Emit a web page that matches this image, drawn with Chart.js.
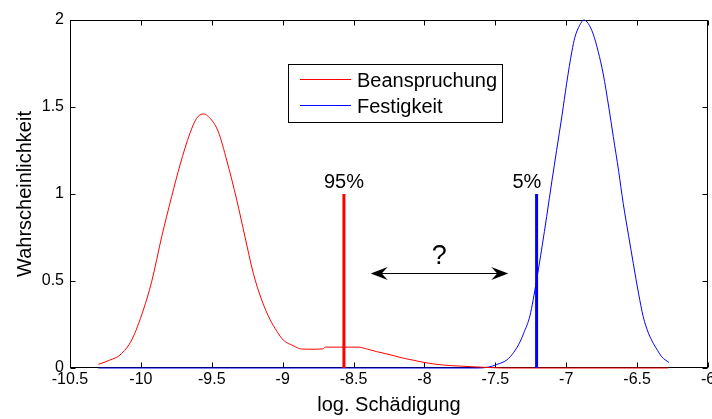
<!DOCTYPE html>
<html>
<head>
<meta charset="utf-8">
<script src="https://cdn.jsdelivr.net/npm/chart.js@4/dist/chart.umd.min.js"></script>
<style>
  html, body { margin: 0; padding: 0; background: #fff; }
  #wrap { width: 712px; height: 419px; }
</style>
</head>
<body>
<div id="wrap"><canvas id="c" width="712" height="419"></canvas></div>
<script>
// ---- Data ----
const seriesNames = ['Beanspruchung', 'Festigkeit'];

const beanX = [-10.30, -10.22, -10.147, -10.065, -9.983, -9.924, -9.853, -9.783, -9.724, -9.654, -9.607, -9.56,
  -9.501, -9.454, -9.395, -9.324, -9.266, -9.207, -9.148, -9.09, -9.04, -8.996, -8.925, -8.866, -8.80, -8.714,
  -8.70, -8.60, -8.467, -8.40, -8.337, -8.25, -8.173, -8.08, -7.996, -7.867, -7.75, -7.632, -7.55, -7.45, -6.28];
const beanY = [0.021, 0.045, 0.075, 0.161, 0.333, 0.496, 0.755, 0.985, 1.167, 1.349, 1.435, 1.46,
  1.425, 1.358, 1.195, 0.966, 0.755, 0.544, 0.391, 0.28, 0.21, 0.161, 0.128, 0.109, 0.108, 0.110,
  0.12, 0.12, 0.12, 0.108, 0.094, 0.078, 0.061, 0.045, 0.031, 0.017, 0.011, 0.006, 0.003, 0, 0];

const festX = [-10.30, -7.62, -7.55, -7.49, -7.42, -7.37, -7.326, -7.30, -7.256, -7.21, -7.17, -7.138, -7.10,
  -7.068, -7.03, -6.997, -6.96, -6.939, -6.905, -6.875, -6.845, -6.81, -6.775, -6.739, -6.70, -6.668, -6.63,
  -6.598, -6.56, -6.527, -6.49, -6.457, -6.42, -6.386, -6.355, -6.327, -6.274];
const festY = [0, 0, 0.005, 0.02, 0.046, 0.09, 0.15, 0.20, 0.30, 0.50, 0.70, 0.87, 1.08,
  1.25, 1.45, 1.636, 1.82, 1.90, 1.97, 2.0, 1.98, 1.92, 1.82, 1.69, 1.50, 1.33, 1.13,
  0.946, 0.76, 0.601, 0.43, 0.295, 0.20, 0.142, 0.10, 0.065, 0.031];

// Quantile markers
const quantileLabels = ['95%', '5%'];
const quantileX = [-8.568, -7.209];
const quantileTop = [1.0, 1.0];
const quantileLabelX = [-8.568, -7.277];
const quantileLabelY = [1.034, 1.034];

// Double arrow with question mark
const arrowX = [-8.379, -7.409];
const arrowY = 0.544;
const questionText = '?';
const questionX = -7.896;
const questionY = 0.598;

// Axes
const xTickValues = [-10.5, -10, -9.5, -9, -8.5, -8, -7.5, -7, -6.5, -6];
const xTickLabels = ['-10.5', '-10', '-9.5', '-9', '-8.5', '-8', '-7.5', '-7', '-6.5', '-6'];
const yTickValues = [0, 0.5, 1, 1.5, 2];
const yTickLabels = ['0', '0.5', '1', '1.5', '2'];
const xTitle = 'log. Schädigung';
const yTitle = 'Wahrscheinlichkeit';

// ---- Build ----
const FONT = '"Liberation Sans", Arial, Helvetica, sans-serif';
const toPts = (xs, ys) => xs.map((x, i) => ({ x: x, y: ys[i] }));

const boxPlugin = {
  id: 'boxPlugin',
  beforeDatasetsDraw(chart) {
    const { ctx, chartArea: a } = chart;
    const xs = chart.scales.x, ys = chart.scales.y;
    ctx.save();
    ctx.strokeStyle = '#000';
    ctx.lineWidth = 1;
    const L = Math.round(a.left) + 0.5, R = Math.round(a.right) - 0.5;
    const T = Math.round(a.top) + 0.5, B = Math.round(a.bottom) - 0.5;
    ctx.strokeRect(L, T, R - L, B - T);
    const tl = 5;
    ctx.beginPath();
    xs.ticks.forEach(t => {
      const px = Math.round(xs.getPixelForValue(t.value)) + 0.5;
      ctx.moveTo(px, B); ctx.lineTo(px, B - tl);
      ctx.moveTo(px, T); ctx.lineTo(px, T + tl);
    });
    ys.ticks.forEach(t => {
      const py = Math.round(ys.getPixelForValue(t.value)) + 0.5;
      ctx.moveTo(L, py); ctx.lineTo(L + tl, py);
      ctx.moveTo(R, py); ctx.lineTo(R - tl, py);
    });
    ctx.stroke();
    ctx.restore();
  },
  afterDatasetsDraw(chart) {
    const { ctx } = chart;
    const xs = chart.scales.x, ys = chart.scales.y;
    ctx.save();
    ctx.fillStyle = '#000';
    // quantile labels
    ctx.font = '20px ' + FONT;
    ctx.textAlign = 'center';
    ctx.textBaseline = 'alphabetic';
    quantileLabels.forEach((s, i) => {
      ctx.fillText(s, xs.getPixelForValue(quantileLabelX[i]), ys.getPixelForValue(quantileLabelY[i]));
    });
    // question mark
    ctx.font = '27px ' + FONT;
    ctx.fillText(questionText, xs.getPixelForValue(questionX), ys.getPixelForValue(questionY));
    // double arrow
    const x1 = xs.getPixelForValue(arrowX[0]), x2 = xs.getPixelForValue(arrowX[1]);
    const yy = Math.round(ys.getPixelForValue(arrowY)) + 0.5;
    ctx.strokeStyle = '#000';
    ctx.lineWidth = 1;
    ctx.beginPath();
    ctx.moveTo(x1 + 8, yy); ctx.lineTo(x2 - 8, yy);
    ctx.stroke();
    const head = (tip, dir) => {
      const len = 17, hw = 6.5, notch = 11;
      ctx.beginPath();
      ctx.moveTo(tip, yy);
      ctx.lineTo(tip + dir * len, yy - hw);
      ctx.lineTo(tip + dir * notch, yy);
      ctx.lineTo(tip + dir * len, yy + hw);
      ctx.closePath();
      ctx.fill();
    };
    head(x1, 1);
    head(x2, -1);
    // legend
    const lx = 288.5, ly = 64.5, lw = 214, lh = 58;
    ctx.fillStyle = '#fff';
    ctx.fillRect(lx, ly, lw, lh);
    ctx.strokeStyle = '#000';
    ctx.strokeRect(lx, ly, lw, lh);
    ctx.font = '20px ' + FONT;
    ctx.textAlign = 'left';
    ctx.textBaseline = 'middle';
    const rows = [79.5, 105.5];
    [0, 1].forEach(i => {
      const ds = chart.data.datasets[i];
      ctx.strokeStyle = ds.borderColor;
      ctx.lineWidth = 1;
      ctx.beginPath();
      ctx.moveTo(300, rows[i]); ctx.lineTo(351, rows[i]);
      ctx.stroke();
      ctx.fillStyle = '#000';
      ctx.fillText(ds.label, 357, rows[i] + 1.5);
    });
    ctx.restore();
  }
};

const common = { fill: false, pointRadius: 0, pointHoverRadius: 0, clip: false };

new Chart(document.getElementById('c'), {
  type: 'line',
  data: {
    datasets: [
      Object.assign({ label: seriesNames[0], data: toPts(beanX, beanY), borderColor: '#ff0000', borderWidth: 1,
        cubicInterpolationMode: 'monotone', order: 3 }, common),
      Object.assign({ label: seriesNames[1], data: toPts(festX, festY), borderColor: '#0000ff', borderWidth: 1,
        cubicInterpolationMode: 'monotone', order: 4 }, common),
      Object.assign({ label: quantileLabels[0], data: [{ x: quantileX[0], y: 0 }, { x: quantileX[0], y: quantileTop[0] }],
        borderColor: '#ff0000', borderWidth: 3, order: 1 }, common),
      Object.assign({ label: quantileLabels[1], data: [{ x: quantileX[1], y: 0 }, { x: quantileX[1], y: quantileTop[1] }],
        borderColor: '#0000ff', borderWidth: 3, order: 2 }, common)
    ]
  },
  options: {
    responsive: false,
    animation: false,
    events: [],
    layout: { padding: { left: 0, right: 4, top: 20, bottom: 0 } },
    plugins: { legend: { display: false }, tooltip: { enabled: false } },
    scales: {
      x: {
        type: 'linear', min: -10.5, max: -6,
        afterBuildTicks: s => { s.ticks = xTickValues.map(v => ({ value: v })); },
        afterFit: s => { s.height = 51; s.paddingLeft = 0; s.paddingRight = 0; },
        grid: { display: false, drawTicks: false },
        border: { display: false },
        ticks: { color: '#000', font: { family: FONT, size: 16 }, padding: 2, maxRotation: 0, autoSkip: false,
          callback: (v, i) => xTickLabels[i] },
        title: { display: true, text: xTitle, color: '#000', font: { family: FONT, size: 20 }, padding: { top: 0, bottom: 2 } }
      },
      y: {
        type: 'linear', min: 0, max: 2,
        afterBuildTicks: s => { s.ticks = yTickValues.map(v => ({ value: v })); },
        afterFit: s => { s.width = 70; s.paddingTop = 0; s.paddingBottom = 0; },
        grid: { display: false, drawTicks: false },
        border: { display: false },
        ticks: { color: '#000', font: { family: FONT, size: 16 }, padding: 6, autoSkip: false,
          callback: (v, i) => yTickLabels[i] },
        title: { display: true, text: yTitle, color: '#000', font: { family: FONT, size: 20 }, padding: { top: 13, bottom: 0 } }
      }
    }
  },
  plugins: [boxPlugin]
});
</script>
</body>
</html>
